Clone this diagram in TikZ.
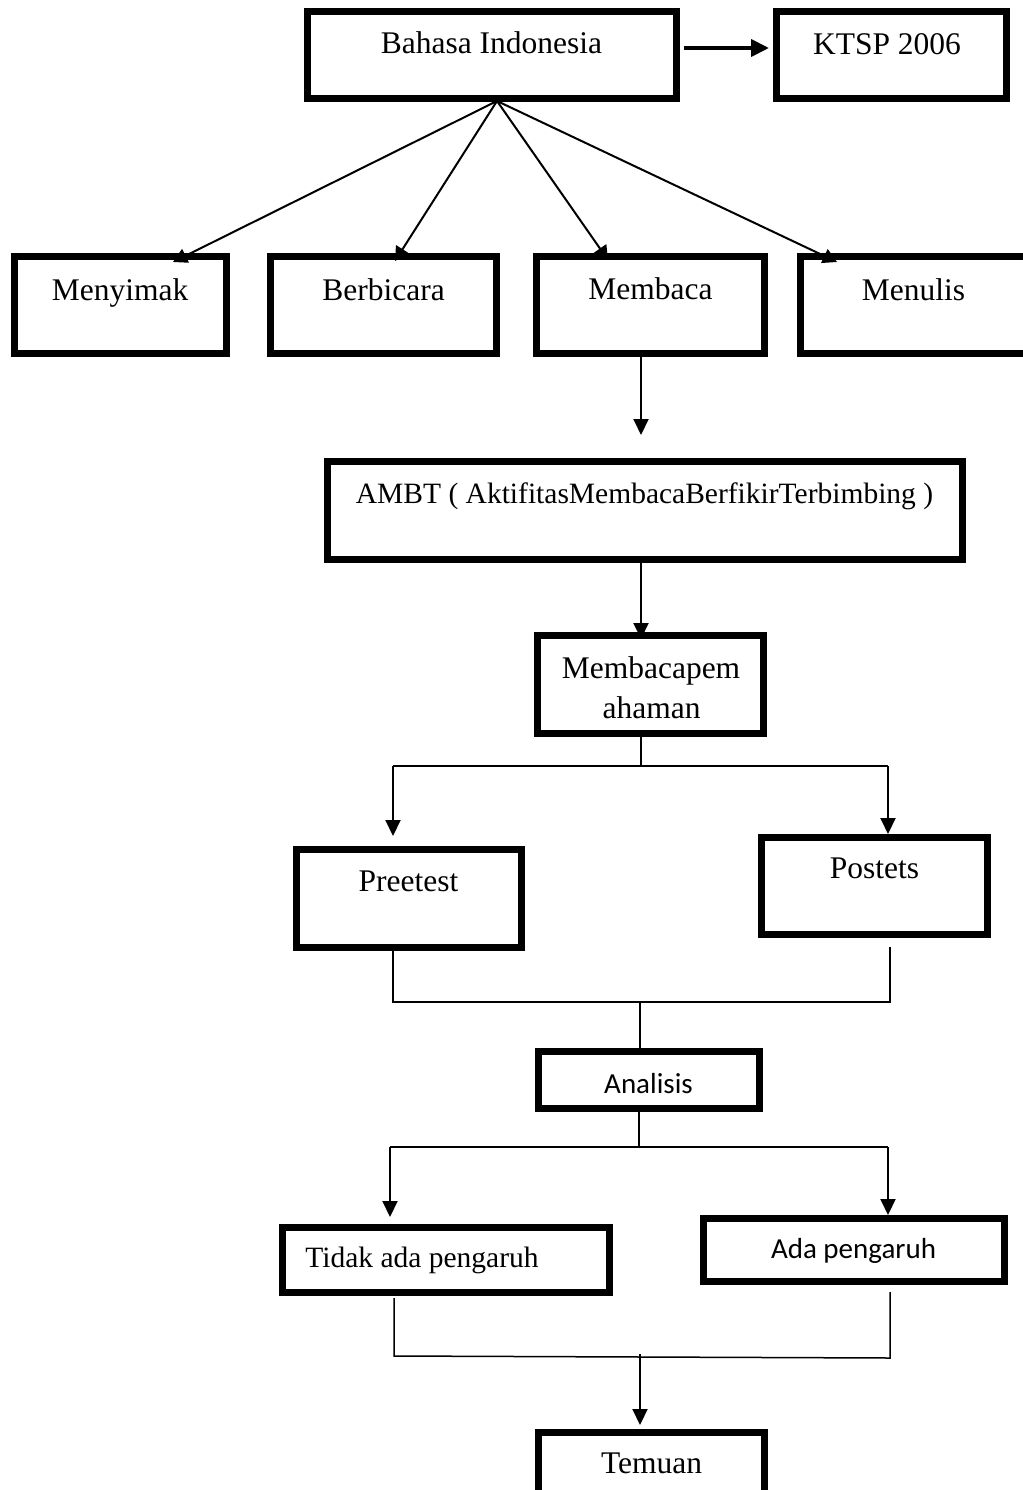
\documentclass[tikz,border=0pt]{standalone}
\usepackage{fontspec}
\setmainfont{Liberation Serif}
\newfontfamily\calfont{Carlito}
\usetikzlibrary{arrows.meta}
\begin{document}
\begin{tikzpicture}[x=1pt,y=-1pt,
  boxs/.style={draw, line width=7pt, inner sep=0pt, minimum width=#1},
  txt/.style={anchor=base, inner sep=0pt, font=\fontsize{31.5}{38}\selectfont},
  ctxt/.style={anchor=base, inner sep=0pt, font=\calfont\fontsize{29}{35}\selectfont},
  arr/.style={line width=2pt, -{Triangle[length=16pt,width=15pt]}},
  fan/.style={line width=2pt, -{Triangle[length=14pt,width=15pt]}},
  joinline/.style={line width=1.5pt}]
\path[fill=white,use as bounding box] (0,0) rectangle (1022,1490);

% boxes
\node[boxs=369, minimum height=87] (bahasa) at (492,55) {};
\node[boxs=230, minimum height=87] (ktsp) at (891.5,55) {};
\node[boxs=212, minimum height=97] (menyimak) at (120.5,305) {};
\node[boxs=226, minimum height=97] (berbicara) at (383.5,305) {};
\node[boxs=228, minimum height=97] (membaca) at (650.5,305) {};
\node[boxs=226, minimum height=97] (menulis) at (913.5,305) {};
\node[boxs=635, minimum height=98] (ambt) at (645,510.5) {};
\node[boxs=226, minimum height=98] (pemahaman) at (650.5,684.5) {};
\node[boxs=225, minimum height=98] (preetest) at (409,898.5) {};
\node[boxs=226, minimum height=97] (postets) at (874.5,886) {};
\node[boxs=221, minimum height=57] (analisis) at (649,1080) {};
\node[boxs=327, minimum height=65] (tidak) at (446,1260) {};
\node[boxs=301, minimum height=63] (ada) at (854,1250) {};
\node[boxs=226, minimum height=103] (temuan) at (651.5,1484) {};

% texts
\node[txt] (bahasa-t) at (491.5,54) {Bahasa Indonesia};
\node[txt] (ktsp-t) at (887,55) {KTSP 2006};
\node[txt] (menyimak-t) at (120,300) {Menyimak};
\node[txt] (berbicara-t) at (383.5,300) {Berbicara};
\node[txt] (membaca-t) at (650.5,299) {Membaca};
\node[txt] (menulis-t) at (913.5,300) {Menulis};
\node[txt, font=\fontsize{29.5}{35}\selectfont] (ambt-t) at (644.5,503) {AMBT ( AktifitasMembacaBerfikirTerbimbing )};
\node[txt] (pem-t1) at (651,678) {Membacapem};
\node[txt] (pem-t2) at (651.5,718) {ahaman};
\node[txt] (preetest-t) at (408.5,891) {Preetest};
\node[txt] (postets-t) at (874.5,878) {Postets};
\node[ctxt] (analisis-t) at (648.5,1093) {Analisis};
\node[txt, font=\fontsize{29.5}{35}\selectfont] (tidak-t) at (422,1267) {Tidak ada pengaruh};
\node[ctxt] (ada-t) at (853.5,1258) {Ada pengaruh};
\node[txt] (temuan-t) at (651.5,1473) {Temuan};

% top arrow
\draw[line width=4pt, -{Triangle[length=18pt,width=17pt]}]
  ([xshift=3.5pt,yshift=7pt]bahasa.east) -- ([xshift=-4pt,yshift=7pt]ktsp.west);

% fan
\coordinate (apex) at (497,101);
\coordinate (f1) at (173,262);
\coordinate (f2) at (395,261);
\coordinate (f3) at (608,260);
\coordinate (f4) at (837,262);
\draw[fan] (apex) -- (f1);
\draw[fan] (apex) -- (f2);
\draw[fan] (apex) -- (f3);
\draw[fan] (apex) -- (f4);

% membaca -> ambt (free end)
\coordinate (m0) at (641,357);
\coordinate (m1) at (641,435);
\draw[arr] (m0) -- (m1);

% ambt -> pemahaman
\coordinate (a0) at (641,563);
\coordinate (a1) at (641,639);
\draw[arr] (a0) -- (a1);

% pemahaman split
\coordinate (p0) at (641,737);
\coordinate (p1) at (641,766);
\coordinate (pl) at (393,766);
\coordinate (pr) at (888,766);
\coordinate (plt) at (393,836);
\coordinate (prt) at (888,834);
\draw[line width=2pt] (p0) -- (p1);
\draw[line width=2pt] (pl) -- (pr);
\draw[arr] (pl) -- (plt);
\draw[arr] (pr) -- (prt);

% preetest/postets join
\coordinate (q1) at (393,951);
\coordinate (q1b) at (393,1002);
\coordinate (q2) at (890,947);
\coordinate (q2b) at (890,1002);
\coordinate (qm) at (640,1002);
\coordinate (qa) at (640,1048);
\draw[joinline] (q1) -- (q1b) -- (q2b) -- (q2);
\draw[joinline] (qm) -- (qa);

% analisis split
\coordinate (s0) at (639,1112);
\coordinate (s1) at (639,1147);
\coordinate (sl) at (390,1147);
\coordinate (sr) at (888,1147);
\coordinate (slt) at (390,1217);
\coordinate (srt) at (888,1215);
\draw[line width=2pt] (s0) -- (s1);
\draw[line width=2pt] (sl) -- (sr);
\draw[arr] (sl) -- (slt);
\draw[arr] (sr) -- (srt);

% tidak/ada join
\coordinate (r1) at (394,1298);
\coordinate (r1b) at (394,1356);
\coordinate (r2) at (890,1292);
\coordinate (r2b) at (890,1358);
\coordinate (rm) at (640,1354);
\coordinate (rt) at (640,1425);
\draw[joinline] (r1) -- (r1b) -- (r2b) -- (r2);
\draw[arr] (rm) -- (rt);
\end{tikzpicture}
\end{document}
